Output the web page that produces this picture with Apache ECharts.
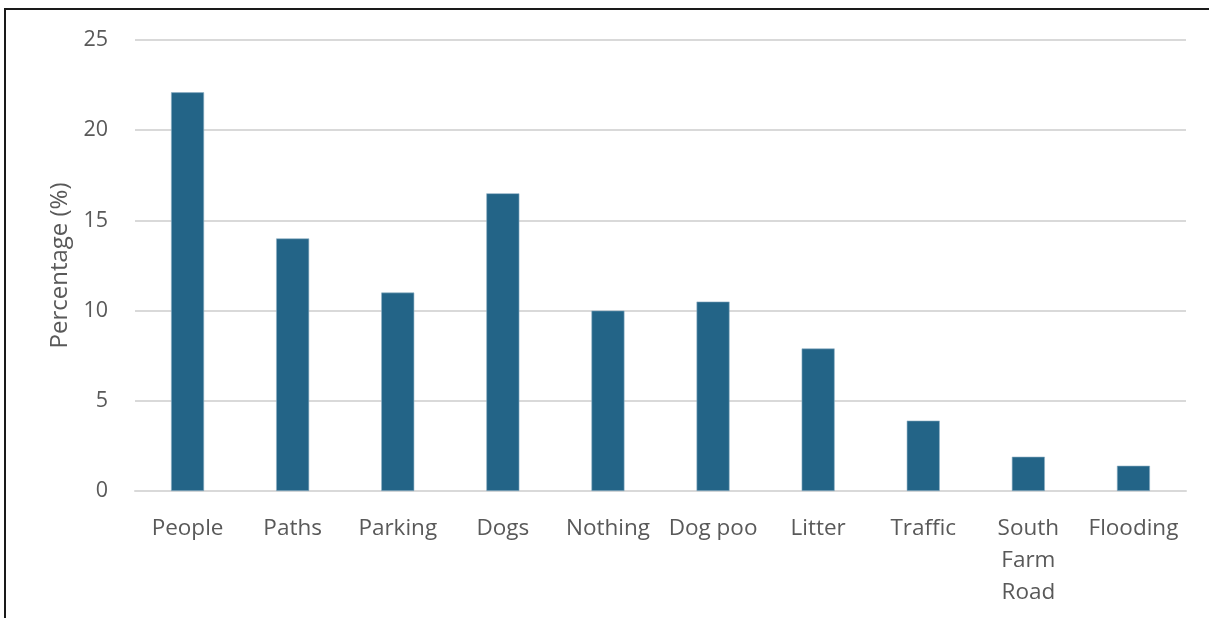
<!DOCTYPE html>
<html>
<head>
<meta charset="utf-8">
<script src="https://cdn.jsdelivr.net/npm/echarts@6/dist/echarts.min.js"></script>
<style>
html,body{margin:0;padding:0;background:#fff;}
#chart{width:1209px;height:618px;}
</style>
</head>
<body>
<div id="chart"></div>
<script>
const categories = ['People', 'Paths', 'Parking', 'Dogs', 'Nothing', 'Dog poo', 'Litter', 'Traffic', 'South Farm Road', 'Flooding'];
const percentages = [22.1, 14.0, 11.0, 16.5, 10.0, 10.5, 7.9, 3.9, 1.9, 1.4];
const yTicks = [0, 5, 10, 15, 20, 25];
const yAxisTitle = 'Percentage (%)';

const textColor = '#595959';
const fontFamily = '"Segoe UI", "Open Sans", "Noto Sans", sans-serif';

const chart = echarts.init(document.getElementById('chart'), null, {renderer: 'canvas'});
chart.setOption({
  animation: false,
  backgroundColor: '#ffffff',
  graphic: [{
    type: 'rect',
    shape: {x: 5, y: 9, width: 1400, height: 800},
    style: {fill: 'none', stroke: '#1a1a1a', lineWidth: 2},
    silent: true
  }],
  grid: {left: 135, right: 23, top: 40, bottom: 127, containLabel: false},
  xAxis: {
    type: 'category',
    data: categories,
    axisLine: {show: true, lineStyle: {color: '#D9D9D9', width: 2}},
    axisTick: {show: false},
    axisLabel: {
      interval: 0,
      color: textColor,
      fontFamily: fontFamily,
      fontSize: 22.5,
      lineHeight: 32,
      margin: 22,
      formatter: v => v.indexOf(' ') >= 0 && v.length > 10 ? v.split(' ').join('\n') : v
    }
  },
  yAxis: {
    type: 'value',
    min: yTicks[0],
    max: yTicks[yTicks.length - 1],
    interval: 5,
    name: yAxisTitle,
    nameLocation: 'middle',
    nameGap: 60,
    nameTextStyle: {color: textColor, fontFamily: fontFamily, fontSize: 24},
    axisLine: {show: false},
    axisTick: {show: false},
    axisLabel: {color: textColor, fontFamily: fontFamily, fontSize: 21.5, margin: 27},
    splitLine: {lineStyle: {color: '#D9D9D9', width: 2}}
  },
  series: [{
    type: 'bar',
    data: percentages,
    barWidth: 33,
    itemStyle: {color: '#236487', borderColor: '#8fb0c4', borderWidth: 0.6}
  }]
});
</script>
</body>
</html>
